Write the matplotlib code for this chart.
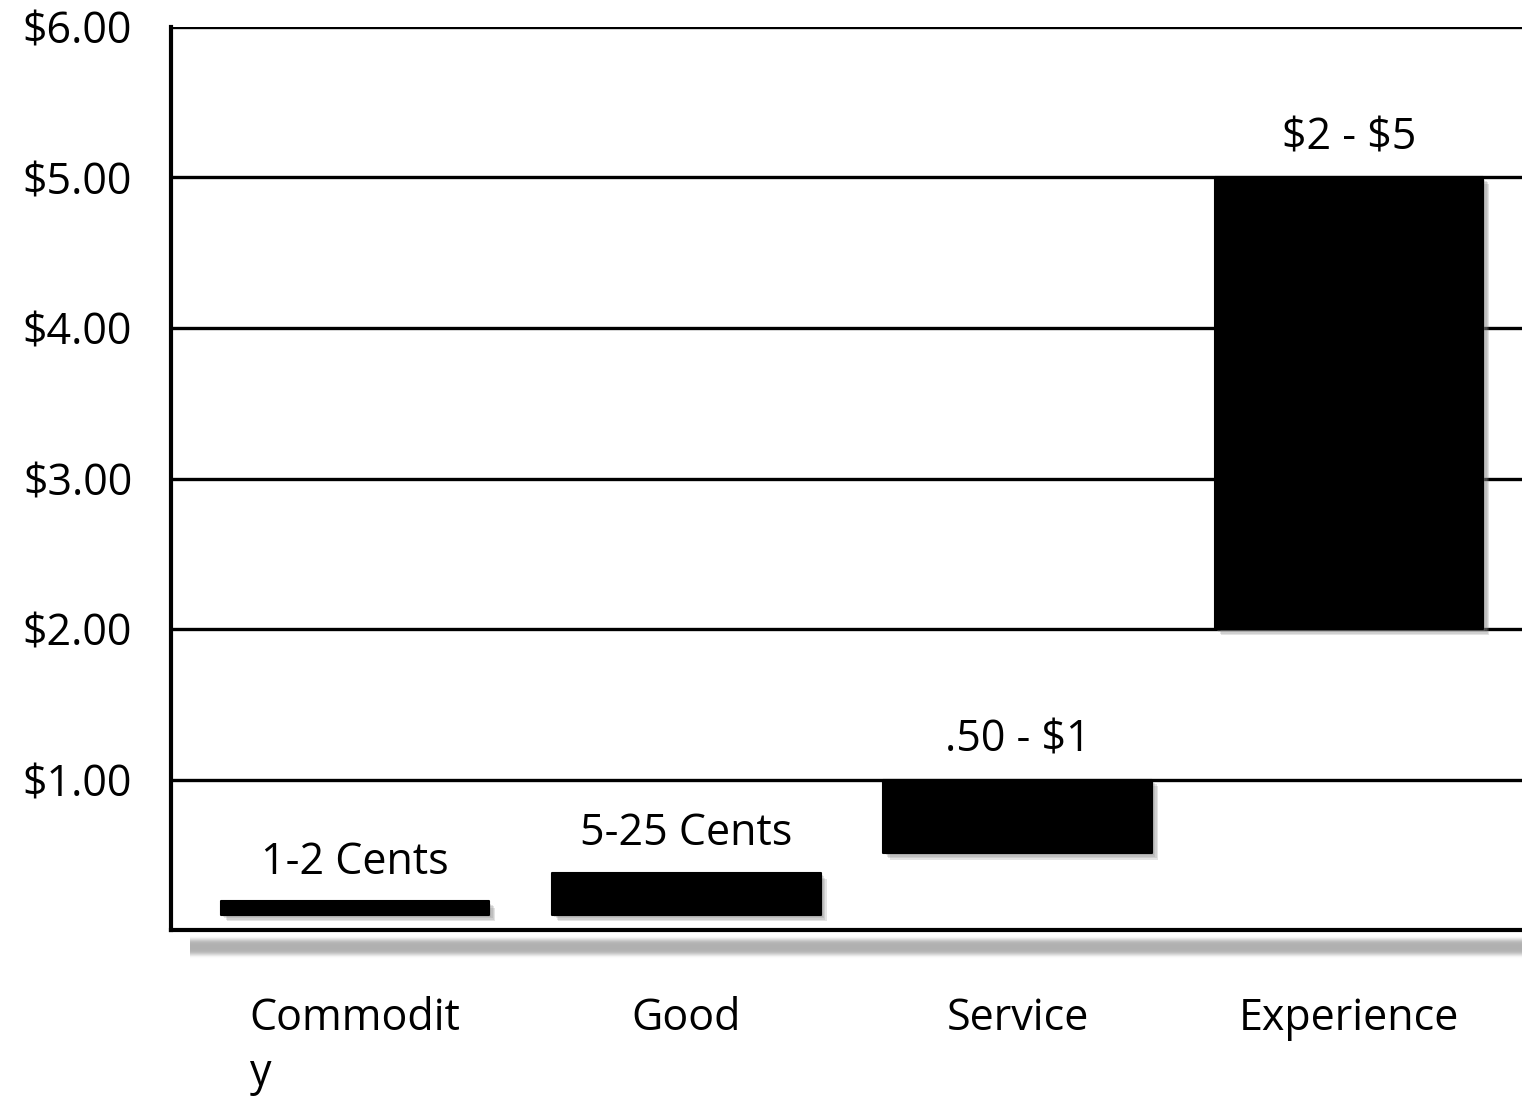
import numpy as np
import matplotlib.pyplot as plt
from matplotlib import patheffects as pe
from matplotlib.ticker import FuncFormatter

plt.rcParams['font.family'] = ['Open Sans', 'DejaVu Sans']

# price ranges per offering (dollars), floating bars from low to high
tick_labels = ['Commodit\ny', 'Good', 'Service', 'Experience']
low = [0.10, 0.10, 0.51, 2.00]
high = [0.19, 0.38, 1.00, 5.00]
range_labels = ['1-2 Cents', '5-25 Cents', '.50 - \\$1', '\\$2 - \\$5']

fig = plt.figure(figsize=(15.22, 10.97), dpi=100)
ax = fig.add_axes([0.1124, 0.1522, 0.8876, 0.8232])

x = range(len(tick_labels))
heights = [h - l for h, l in zip(high, low)]
bars = ax.bar(x, heights, bottom=low, width=0.81, color='black',
              edgecolor='black', linewidth=1.5, joinstyle='round', zorder=3)
# blurred drop shadow: a few offset copies stacked
shadow = [pe.SimplePatchShadow(offset=(o, -o), shadow_rgbFace='#888888', alpha=0.22)
          for o in (1.5, 2.5, 3.5, 4.5)]
for b in bars:
    b.set_path_effects(shadow + [pe.Normal()])

for xi, top, txt in zip(x, high, range_labels):
    ax.annotate(txt, (xi, top), xytext=(0, 12), textcoords='offset points',
                ha='center', va='bottom', fontsize=31)

ax.set_xlim(-0.555, 3.522)
ax.set_ylim(0, 6)
ax.set_yticks([1, 2, 3, 4, 5, 6])
ax.yaxis.set_major_formatter(FuncFormatter(lambda v, p: f'${v:.2f}'))
ax.set_xticks(list(x))
ax.set_xticklabels(tick_labels, multialignment='left', linespacing=1.3)
ax.tick_params(axis='both', length=0, labelsize=31)
ax.tick_params(axis='y', pad=28)
ax.tick_params(axis='x', pad=48)
for lab in ax.get_xticklabels():
    lab.set_verticalalignment('top')

ax.grid(axis='y', color='black', linewidth=2.4, zorder=1)
ax.set_axisbelow(True)
for side in ['top', 'right']:
    ax.spines[side].set_visible(False)
for side in ['left', 'bottom']:
    ax.spines[side].set_linewidth(3)
    ax.spines[side].set_zorder(4)

# soft grey shadow under the baseline
px = 1 / (0.8232 * 1097)
for k in range(28):
    a = 0.2 * np.exp(-((k - 14) / 8.0) ** 4)
    ax.plot([0.014, 1.0], [-(3 + k) * px] * 2, transform=ax.transAxes,
            color='black', alpha=a, linewidth=1.2, solid_capstyle='butt',
            clip_on=False, zorder=0)

fig.savefig('out.png', dpi=100)
